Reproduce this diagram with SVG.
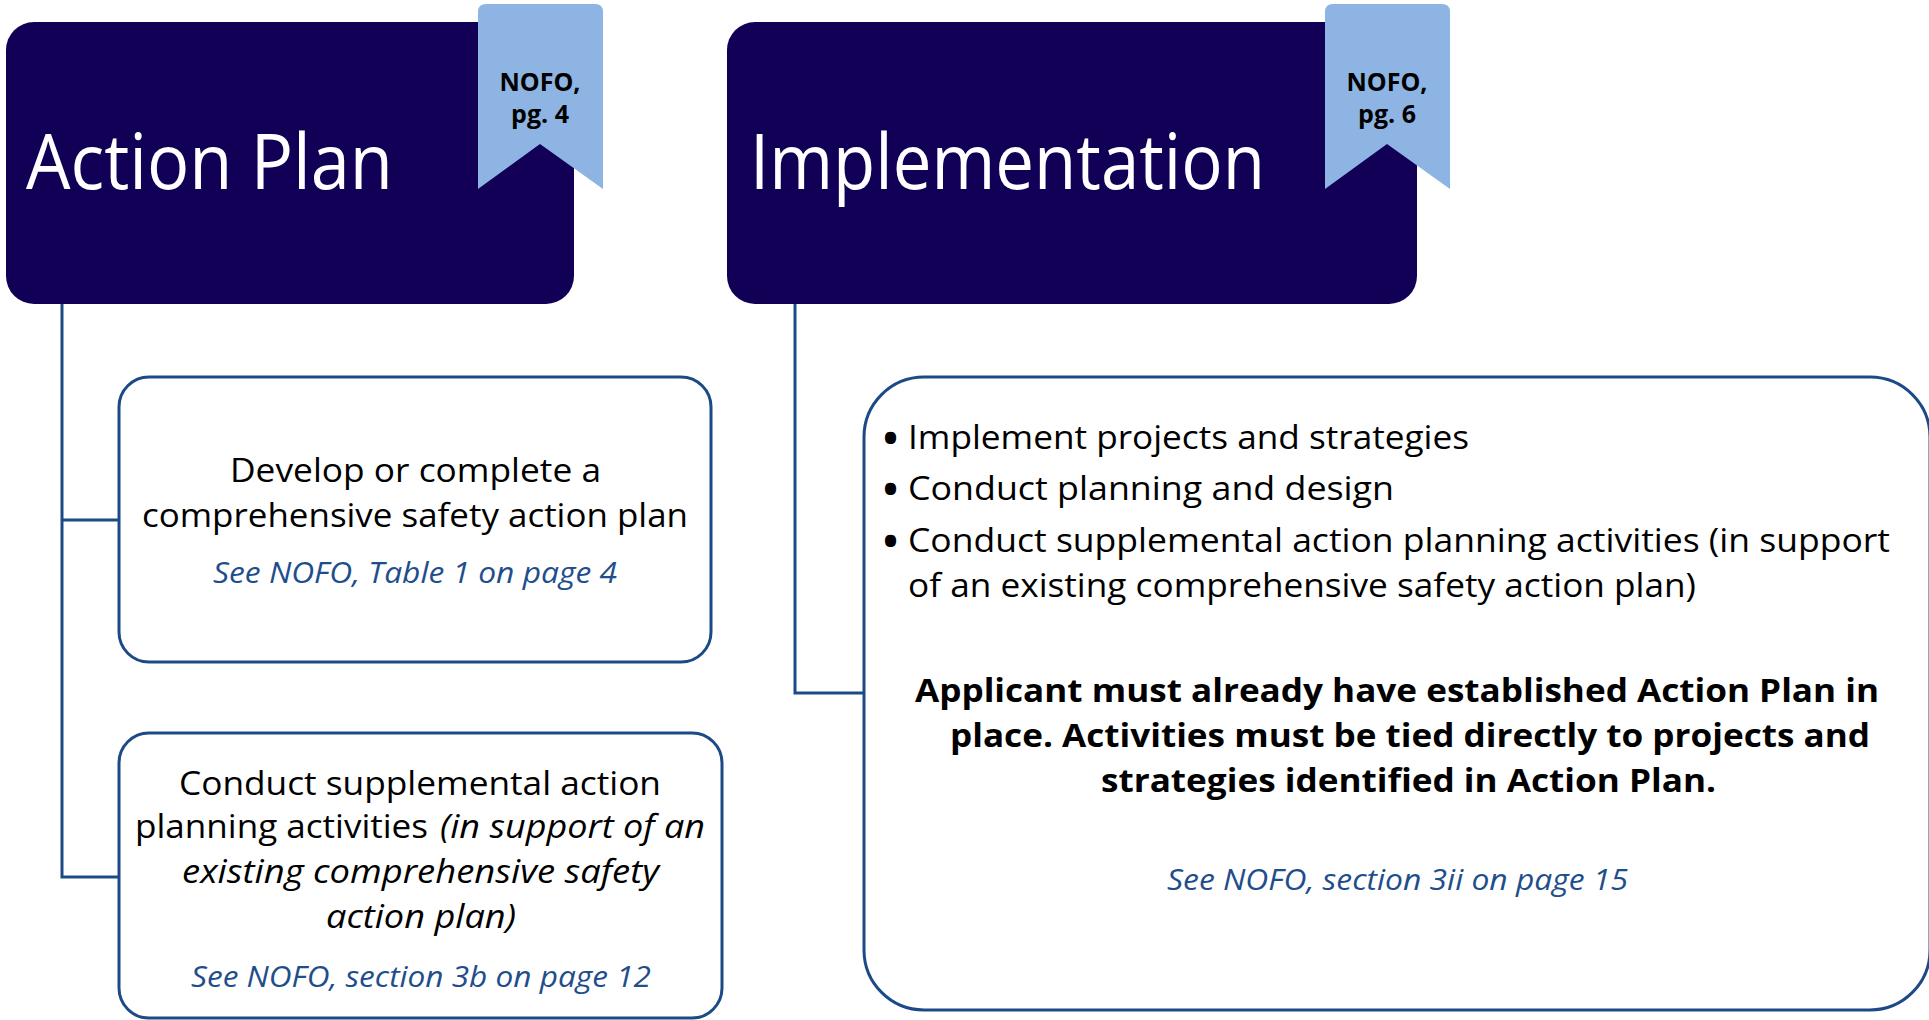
<svg xmlns="http://www.w3.org/2000/svg" width="1929" height="1020" viewBox="0 0 1929 1020">
<style>
.hdr{fill:#120057}
.rib{fill:#8DB4E2}
.title{font-family:"Open Sans","Noto Sans",sans-serif;font-size:76px;fill:#fff}
.tag{font-family:"Open Sans","Noto Sans",sans-serif;font-size:25px;font-weight:bold;fill:#000;text-anchor:middle}
.box{fill:#fff;stroke:#1C4A87;stroke-width:3}
.body{font-family:"Open Sans","Noto Sans",sans-serif;font-size:33px;fill:#000}
.bul{font-family:"Open Sans","Noto Sans",sans-serif;font-size:40px;font-weight:bold;fill:#000}
.it{font-style:italic}
.bold{font-weight:bold}
.link{font-family:"Open Sans","Noto Sans",sans-serif;font-size:30px;font-style:italic;fill:#1F4E8C}
.conn{fill:none;stroke:#1C4A87;stroke-width:3}
</style>
<rect width="1929" height="1020" fill="#fff"/>
<g id="connectors">
<path class="conn" d="M62 304 V877 H119 M62 520 H119"/>
<path class="conn" d="M795 304 V693 H864"/>
</g>
<g id="action-plan">
<rect class="hdr" x="6" y="22" width="568" height="282" rx="28"/>
<path class="rib" d="M478 12 Q478 4 486 4 H595 Q603 4 603 12 V189 L540 144 L478 189 Z"/>
<text class="title" x="26" y="189" textLength="367" lengthAdjust="spacingAndGlyphs">Action Plan</text>
<text class="tag" x="540" y="91">NOFO,</text>
<text class="tag" x="540" y="123">pg. 4</text>
</g>
<g id="implementation">
<rect class="hdr" x="727" y="22" width="690" height="282" rx="28"/>
<path class="rib" d="M1325 12 Q1325 4 1333 4 H1442 Q1450 4 1450 12 V189 L1387 144 L1325 189 Z"/>
<text class="title" x="750" y="189" textLength="515" lengthAdjust="spacingAndGlyphs">Implementation</text>
<text class="tag" x="1387" y="91">NOFO,</text>
<text class="tag" x="1387" y="123">pg. 6</text>
</g>
<g id="develop-plan">
<rect class="box" x="119" y="377" width="592" height="285" rx="30"/>
<text class="body" x="230" y="482" textLength="371" lengthAdjust="spacingAndGlyphs">Develop or complete a</text>
<text class="body" x="142" y="527" textLength="546" lengthAdjust="spacingAndGlyphs">comprehensive safety action plan</text>
<text class="link" x="213" y="583" textLength="404" lengthAdjust="spacingAndGlyphs">See NOFO, Table 1 on page 4</text>
</g>
<g id="supplemental-planning">
<rect class="box" x="119" y="733" width="603" height="285" rx="30"/>
<text class="body" x="179" y="795" textLength="482" lengthAdjust="spacingAndGlyphs">Conduct supplemental action</text>
<text class="body" x="135" y="838" textLength="293" lengthAdjust="spacingAndGlyphs">planning activities</text>
<text class="body it" x="440" y="838" textLength="265" lengthAdjust="spacingAndGlyphs">(in support of an</text>
<text class="body it" x="182" y="883" textLength="477" lengthAdjust="spacingAndGlyphs">existing comprehensive safety</text>
<text class="body it" x="326" y="928" textLength="190" lengthAdjust="spacingAndGlyphs">action plan)</text>
<text class="link" x="191" y="987" textLength="460" lengthAdjust="spacingAndGlyphs">See NOFO, section 3b on page 12</text>
</g>
<g id="implementation-detail">
<rect class="box" x="864" y="377" width="1066" height="633" rx="60"/>
<text class="bul" x="883" y="452">•</text>
<text class="body" x="908" y="449" textLength="561" lengthAdjust="spacingAndGlyphs">Implement projects and strategies</text>
<text class="bul" x="883" y="503">•</text>
<text class="body" x="908" y="500" textLength="486" lengthAdjust="spacingAndGlyphs">Conduct planning and design</text>
<text class="bul" x="883" y="555">•</text>
<text class="body" x="908" y="552" textLength="982" lengthAdjust="spacingAndGlyphs">Conduct supplemental action planning activities (in support</text>
<text class="body" x="908" y="597" textLength="788" lengthAdjust="spacingAndGlyphs">of an existing comprehensive safety action plan)</text>
<text class="body bold" x="915" y="702" textLength="964" lengthAdjust="spacingAndGlyphs">Applicant must already have established Action Plan in</text>
<text class="body bold" x="950" y="747" textLength="920" lengthAdjust="spacingAndGlyphs">place. Activities must be tied directly to projects and</text>
<text class="body bold" x="1101" y="792" textLength="615" lengthAdjust="spacingAndGlyphs">strategies identified in Action Plan.</text>
<text class="link" x="1167" y="890" textLength="461" lengthAdjust="spacingAndGlyphs">See NOFO, section 3ii on page 15</text>
</g>
</svg>
